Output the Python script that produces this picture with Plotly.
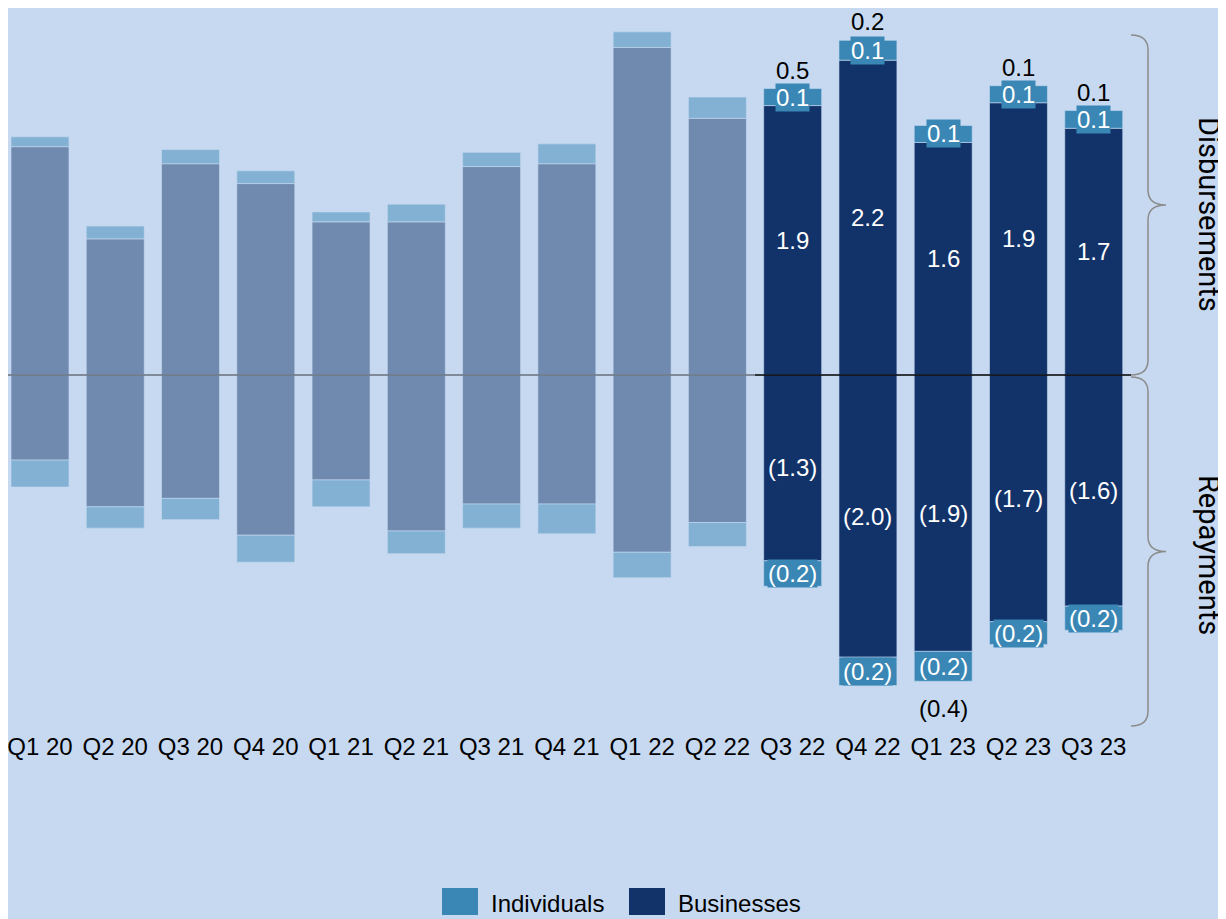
import plotly.graph_objects as go

# Quarterly disbursements and repayments, in billions
quarters = ["Q1 20", "Q2 20", "Q3 20", "Q4 20", "Q1 21", "Q2 21", "Q3 21", "Q4 21",
            "Q1 22", "Q2 22", "Q3 22", "Q4 22", "Q1 23", "Q2 23", "Q3 23"]
biz_disb = [1.61, 0.96, 1.49, 1.35, 1.08, 1.08, 1.47, 1.49, 2.31, 1.81, 1.90, 2.22, 1.64, 1.92, 1.74]
ind_disb = [0.07, 0.09, 0.10, 0.09, 0.07, 0.125, 0.10, 0.14, 0.11, 0.15, 0.12, 0.14, 0.12, 0.12, 0.125]
biz_repay = [0.60, 0.93, 0.87, 1.13, 0.74, 1.10, 0.91, 0.91, 1.25, 1.04, 1.31, 1.99, 1.949, 1.74, 1.63]
ind_repay = [0.19, 0.15, 0.15, 0.19, 0.19, 0.16, 0.17, 0.21, 0.18, 0.17, 0.18, 0.20, 0.21, 0.16, 0.17]
first_labelled = 10  # quarters before this are faded out

BG = "#C6D9F0"
BIZ = "#12336A"
IND = "#3A87B5"
FONT = "Liberation Sans"

# the page adds an 8px body margin, so the figure is a little smaller
OFF = 8
W, H = 1218, 911
L, R, T, B = 0, 95, 0, 189
PW, PH = W - L - R, H - T - B
ZERO_PX, PX_PER_UNIT = 367, 141.8


def paper(x, y):
    # x, y are pixel positions in the full window
    return (x - OFF - L) / PW, (PH + T - (y - OFF)) / PH


def fmt(v):
    s = f"{abs(v):.1f}"
    return f"({s})" if v < 0 else s


fig = go.Figure()
line = dict(width=1, color="rgba(198,217,240,0.6)")
fig.add_trace(go.Bar(x=quarters, y=biz_disb, marker=dict(color=BIZ, line=line), name="Businesses"))
fig.add_trace(go.Bar(x=quarters, y=[-v for v in biz_repay], marker=dict(color=BIZ, line=line), name="Businesses"))
fig.add_trace(go.Bar(x=quarters, y=ind_disb, marker=dict(color=IND, line=line), name="Individuals"))
fig.add_trace(go.Bar(x=quarters, y=[-v for v in ind_repay], marker=dict(color=IND, line=line), name="Individuals"))

annotations = []
white = dict(family=FONT, size=24, color="white")
black = dict(family=FONT, size=24, color="black")
for i in range(first_labelled, len(quarters)):
    q = quarters[i]
    bd, idd, br, ir = biz_disb[i], ind_disb[i], biz_repay[i], ind_repay[i]
    annotations.append(dict(x=q, y=bd / 2, text=fmt(bd), showarrow=False, font=white))
    annotations.append(dict(x=q, y=-br / 2, text=fmt(-br), showarrow=False, font=white))
    annotations.append(dict(x=q, y=bd + idd / 2, text=fmt(idd), showarrow=False, font=white,
                            bgcolor=IND, borderpad=0))
    annotations.append(dict(x=q, y=-br - ir / 2, text=fmt(-ir), showarrow=False, font=white,
                            bgcolor=IND, borderpad=0))
    net = bd + idd - br - ir
    if net >= 0:
        annotations.append(dict(x=q, y=bd + idd, text=fmt(net), showarrow=False, font=black,
                                yanchor="bottom", yshift=4, borderpad=0))
    else:
        annotations.append(dict(x=q, y=-br - ir, text=fmt(net), showarrow=False, font=black,
                                yanchor="top", yshift=-13, borderpad=0))

# side labels
for text, yc in [("Disbursements", 214), ("Repayments", 555)]:
    xp, yp = paper(1209, yc)
    annotations.append(dict(x=xp, y=yp, xref="paper", yref="paper", text=text, textangle=90,
                            xanchor="center", yanchor="middle", showarrow=False,
                            font=dict(family="Roboto", size=29, color="black")))

x_lo, x_hi = -0.425, 14.495
shapes = [
    dict(type="line", xref="x", yref="y", x0=x_lo, x1=x_hi, y0=0, y1=0,
         line=dict(color="black", width=1.5), layer="above"),
    dict(type="rect", xref="x", yref="paper", x0=x_lo, x1=first_labelled - 0.5, y0=0, y1=1,
         fillcolor=BG, opacity=0.52, line=dict(width=0), layer="above"),
]


def brace(ytop, ybot, xback=1131, xmid=1148, xtip=1166, r=15):
    ym = (ytop + ybot) / 2
    pts = [("M", [(xback, ytop)]), ("Q", [(xmid, ytop), (xmid, ytop + r)]), ("L", [(xmid, ym - r)]),
           ("Q", [(xmid, ym), (xtip, ym)]), ("Q", [(xmid, ym), (xmid, ym + r)]), ("L", [(xmid, ybot - r)]),
           ("Q", [(xmid, ybot), (xback, ybot)])]
    path = ""
    for cmd, ps in pts:
        path += cmd + " " + " ".join("%.5f,%.5f" % paper(x, y) for x, y in ps) + " "
    return dict(type="path", xref="paper", yref="paper", path=path.strip(),
                line=dict(color="#8C8C8C", width=1.5))


shapes.append(brace(35, 375))
shapes.append(brace(377, 726))

# legend drawn by hand so the swatches match
for label, color, x0 in [("Individuals", IND, 442), ("Businesses", BIZ, 629)]:
    ax0, ay0 = paper(x0, 888)
    ax1, ay1 = paper(x0 + 36, 915)
    shapes.append(dict(type="rect", xref="paper", yref="paper", x0=ax0, x1=ax1, y0=ay0, y1=ay1,
                       fillcolor=color, line=dict(width=0)))
    tx, ty = paper(x0 + 47, 904)
    annotations.append(dict(x=tx, y=ty, xref="paper", yref="paper", text=label,
                            xanchor="left", yanchor="middle", showarrow=False, font=black))

fig.update_layout(
    width=W, height=H,
    barmode="relative", bargap=0.23,
    paper_bgcolor=BG, plot_bgcolor=BG,
    margin=dict(l=L, r=R, t=T, b=B),
    showlegend=False,
    font=dict(family=FONT, size=24, color="black"),
    xaxis=dict(range=[x_lo, x_hi], showgrid=False, showline=False, ticks="", tickfont=dict(size=24)),
    yaxis=dict(range=[-(PH - ZERO_PX) / PX_PER_UNIT, ZERO_PX / PX_PER_UNIT],
               visible=False, showgrid=False, zeroline=False),
    annotations=annotations,
    shapes=shapes,
)

fig.write_html("out.html")
